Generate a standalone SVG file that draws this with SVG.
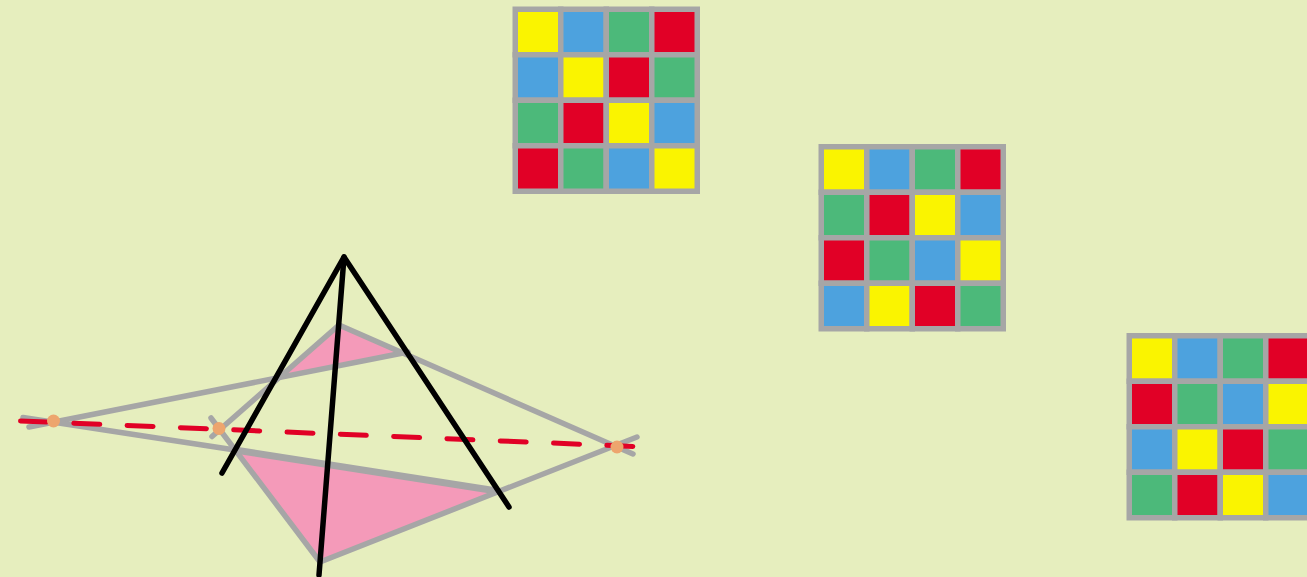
<svg xmlns="http://www.w3.org/2000/svg" width="1307" height="577" viewBox="0 0 1307 577">
<defs>
<style>
.y{fill:#faf400}.b{fill:#4da2de}.g{fill:#4cb97a}.r{fill:#e10026}
.y,.b,.g,.r{stroke:#a6a6a6;stroke-width:5.5}
.e{fill:none;stroke:#a6a6a6;stroke-width:5.500;stroke-linecap:round}
.t{fill:none;stroke:#a6a6a6;stroke-width:7;stroke-linecap:round}
.k{fill:none;stroke:#000;stroke-width:5.500;stroke-linecap:round;stroke-linejoin:round}
.p{fill:#f49ab9}
.d{fill:#eda56e}
</style>
</defs>
<rect id="background" width="1307" height="577" fill="#e6eebe"/>
<g id="grid-1" transform="translate(515.25 9.25)">
<rect class="y" x="0" y="0" width="45.5" height="45.5"/><rect class="b" x="45.5" y="0" width="45.5" height="45.5"/><rect class="g" x="91" y="0" width="45.5" height="45.5"/><rect class="r" x="136.5" y="0" width="45.5" height="45.5"/>
<rect class="b" x="0" y="45.5" width="45.5" height="45.5"/><rect class="y" x="45.5" y="45.5" width="45.5" height="45.5"/><rect class="r" x="91" y="45.5" width="45.5" height="45.5"/><rect class="g" x="136.5" y="45.5" width="45.5" height="45.5"/>
<rect class="g" x="0" y="91" width="45.5" height="45.5"/><rect class="r" x="45.5" y="91" width="45.5" height="45.5"/><rect class="y" x="91" y="91" width="45.5" height="45.5"/><rect class="b" x="136.5" y="91" width="45.5" height="45.5"/>
<rect class="r" x="0" y="136.5" width="45.5" height="45.5"/><rect class="g" x="45.5" y="136.5" width="45.5" height="45.5"/><rect class="b" x="91" y="136.5" width="45.5" height="45.5"/><rect class="y" x="136.5" y="136.5" width="45.5" height="45.5"/>
</g>
<g id="grid-2" transform="translate(821.25 146.75)">
<rect class="y" x="0" y="0" width="45.5" height="45.5"/><rect class="b" x="45.5" y="0" width="45.5" height="45.5"/><rect class="g" x="91" y="0" width="45.5" height="45.5"/><rect class="r" x="136.5" y="0" width="45.5" height="45.5"/>
<rect class="g" x="0" y="45.5" width="45.5" height="45.5"/><rect class="r" x="45.5" y="45.5" width="45.5" height="45.5"/><rect class="y" x="91" y="45.5" width="45.5" height="45.5"/><rect class="b" x="136.5" y="45.5" width="45.5" height="45.5"/>
<rect class="r" x="0" y="91" width="45.5" height="45.5"/><rect class="g" x="45.5" y="91" width="45.5" height="45.5"/><rect class="b" x="91" y="91" width="45.5" height="45.5"/><rect class="y" x="136.5" y="91" width="45.5" height="45.5"/>
<rect class="b" x="0" y="136.5" width="45.5" height="45.5"/><rect class="y" x="45.5" y="136.5" width="45.5" height="45.5"/><rect class="r" x="91" y="136.5" width="45.5" height="45.5"/><rect class="g" x="136.5" y="136.5" width="45.5" height="45.5"/>
</g>
<g id="grid-3" transform="translate(1129.25 335.75)">
<rect class="y" x="0" y="0" width="45.5" height="45.5"/><rect class="b" x="45.5" y="0" width="45.5" height="45.5"/><rect class="g" x="91" y="0" width="45.5" height="45.5"/><rect class="r" x="136.5" y="0" width="45.5" height="45.5"/>
<rect class="r" x="0" y="45.5" width="45.5" height="45.5"/><rect class="g" x="45.5" y="45.5" width="45.5" height="45.5"/><rect class="b" x="91" y="45.5" width="45.5" height="45.5"/><rect class="y" x="136.5" y="45.5" width="45.5" height="45.5"/>
<rect class="b" x="0" y="91" width="45.5" height="45.5"/><rect class="y" x="45.5" y="91" width="45.5" height="45.5"/><rect class="r" x="91" y="91" width="45.5" height="45.5"/><rect class="g" x="136.5" y="91" width="45.5" height="45.5"/>
<rect class="g" x="0" y="136.5" width="45.5" height="45.5"/><rect class="r" x="45.5" y="136.5" width="45.5" height="45.5"/><rect class="y" x="91" y="136.5" width="45.5" height="45.5"/><rect class="b" x="136.5" y="136.5" width="45.5" height="45.5"/>
</g>
<g id="triangles">
<polygon class="p" points="235,450 497,491 320,562"/>
<polygon class="p" points="339,325 408,353 278,380"/>
</g>
<g id="connectors">
<line class="e" x1="29" y1="427" x2="408" y2="352"/>
<line class="e" x1="23" y1="417.500" x2="235" y2="450"/>
<line class="t" x1="235" y1="450" x2="497" y2="491"/>
<line class="e" x1="211" y1="418" x2="320" y2="562"/>
<line class="e" x1="212" y1="436.500" x2="339" y2="325"/>
<line class="e" x1="339" y1="325" x2="633" y2="454"/>
<line class="e" x1="320" y1="562" x2="637" y2="437"/>
<line x1="20.500" y1="421" x2="635" y2="446.500" fill="none" stroke="#e10026" stroke-width="5" stroke-linecap="round" stroke-dasharray="26 27.350"/>
<polyline class="k" points="222,473 344,257 509,507"/>
<line class="k" x1="344" y1="257" x2="319" y2="575"/>
</g>
<g id="points">
<circle class="d" cx="53.500" cy="421" r="6.500"/>
<circle class="d" cx="219" cy="428.500" r="6.500"/>
<circle class="d" cx="617" cy="447" r="6.500"/>
</g>
</svg>
